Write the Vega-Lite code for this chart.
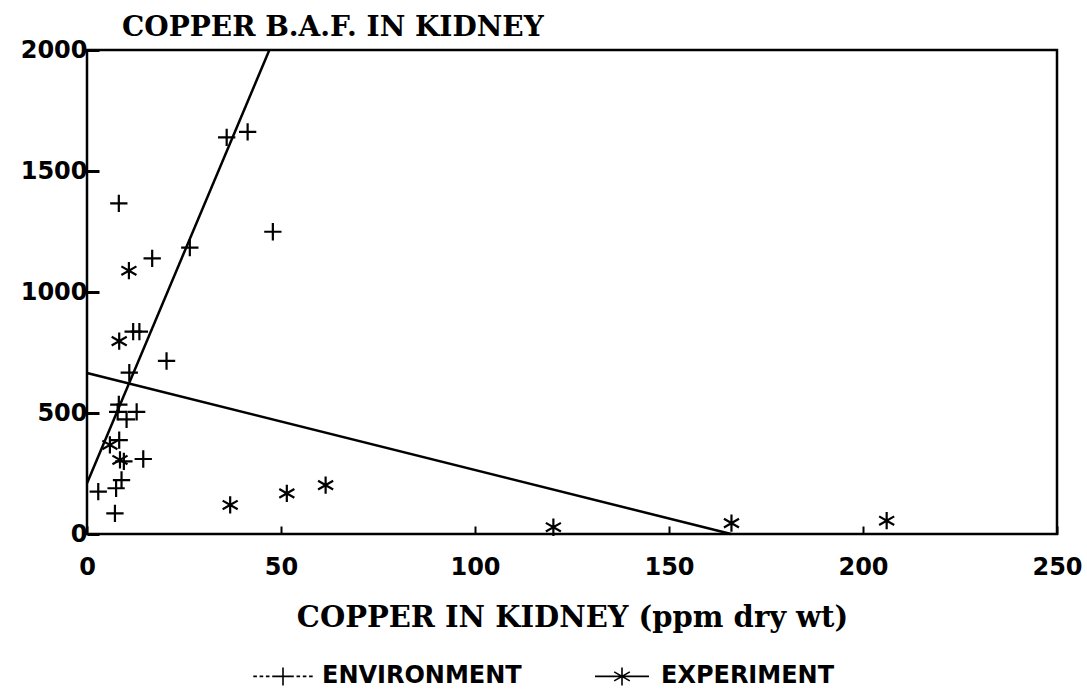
{
  "$schema": "https://vega.github.io/schema/vega-lite/v6.json",
  "width": 970,
  "height": 484,
  "autosize": "none",
  "padding": {"left": 87, "top": 50, "right": 30, "bottom": 162},
  "background": "white",
  "title": {
    "text": "COPPER B.A.F. IN KIDNEY",
    "anchor": "start",
    "frame": "group",
    "dx": 35,
    "offset": -4,
    "font": "DejaVu Serif",
    "fontWeight": "bold",
    "fontSize": 28,
    "color": "black"
  },
  "config": {
    "view": {"stroke": "black", "strokeWidth": 2.5},
    "axis": {
      "grid": false,
      "domain": false,
      "labelFont": "DejaVu Sans",
      "labelFontWeight": "bold",
      "labelFontSize": 24,
      "labelColor": "black",
      "tickColor": "black",
      "titleColor": "black",
      "format": "d",
      "labelFlush": false,
      "labelOverlap": false
    }
  },
  "datasets": {
    "points": [
      {"x": 36.0, "y": 1639, "group": "ENVIRONMENT"},
      {"x": 41.4, "y": 1662, "group": "ENVIRONMENT"},
      {"x": 8.2, "y": 1366, "group": "ENVIRONMENT"},
      {"x": 47.9, "y": 1249, "group": "ENVIRONMENT"},
      {"x": 26.5, "y": 1183, "group": "ENVIRONMENT"},
      {"x": 16.8, "y": 1139, "group": "ENVIRONMENT"},
      {"x": 11.9, "y": 836, "group": "ENVIRONMENT"},
      {"x": 13.5, "y": 836, "group": "ENVIRONMENT"},
      {"x": 20.5, "y": 715, "group": "ENVIRONMENT"},
      {"x": 10.9, "y": 667, "group": "ENVIRONMENT"},
      {"x": 8.2, "y": 535, "group": "ENVIRONMENT"},
      {"x": 7.9, "y": 505, "group": "ENVIRONMENT"},
      {"x": 10.2, "y": 474, "group": "ENVIRONMENT"},
      {"x": 12.8, "y": 505, "group": "ENVIRONMENT"},
      {"x": 8.3, "y": 388, "group": "ENVIRONMENT"},
      {"x": 14.5, "y": 310, "group": "ENVIRONMENT"},
      {"x": 9.5, "y": 300, "group": "ENVIRONMENT"},
      {"x": 8.9, "y": 223, "group": "ENVIRONMENT"},
      {"x": 2.9, "y": 175, "group": "ENVIRONMENT"},
      {"x": 7.5, "y": 189, "group": "ENVIRONMENT"},
      {"x": 7.2, "y": 85, "group": "ENVIRONMENT"},
      {"x": 10.8, "y": 1088, "group": "EXPERIMENT"},
      {"x": 8.3, "y": 797, "group": "EXPERIMENT"},
      {"x": 5.9, "y": 368, "group": "EXPERIMENT"},
      {"x": 8.5, "y": 306, "group": "EXPERIMENT"},
      {"x": 36.9, "y": 120, "group": "EXPERIMENT"},
      {"x": 51.5, "y": 168, "group": "EXPERIMENT"},
      {"x": 61.5, "y": 202, "group": "EXPERIMENT"},
      {"x": 120.2, "y": 28, "group": "EXPERIMENT"},
      {"x": 166.1, "y": 45, "group": "EXPERIMENT"},
      {"x": 206.1, "y": 55, "group": "EXPERIMENT"}
    ],
    "lines": [
      {"x": 0, "y": 210, "line": "ENVIRONMENT"},
      {"x": 47, "y": 2000, "line": "ENVIRONMENT"},
      {"x": 0, "y": 665, "line": "EXPERIMENT"},
      {"x": 166, "y": 0, "line": "EXPERIMENT"}
    ]
  },
  "encoding": {
    "x": {
      "field": "x",
      "type": "quantitative",
      "scale": {"domain": [0, 250], "nice": false, "zero": false},
      "axis": {
        "values": [0, 50, 100, 150, 200, 250],
        "tickSize": -8,
        "tickWidth": 2,
        "labelPadding": 29,
        "title": "COPPER IN KIDNEY (ppm dry wt)",
        "titleFont": "DejaVu Serif",
        "titleFontWeight": "bold",
        "titleFontSize": 29,
        "titlePadding": 24
      }
    },
    "y": {
      "field": "y",
      "type": "quantitative",
      "scale": {"domain": [0, 2000], "nice": false},
      "axis": {
        "values": [0, 500, 1000, 1500, 2000],
        "tickSize": -12,
        "tickWidth": 3,
        "labelPadding": 12,
        "title": null
      }
    }
  },
  "layer": [
    {
      "data": {"name": "lines"},
      "mark": {"type": "line", "color": "black", "strokeWidth": 2.5},
      "encoding": {"detail": {"field": "line", "type": "nominal"}}
    },
    {
      "data": {"name": "points"},
      "mark": {"type": "point", "filled": false, "stroke": "black", "strokeWidth": 2.2, "size": 300, "opacity": 1},
      "encoding": {
        "shape": {
          "field": "group",
          "type": "nominal",
          "scale": {
            "domain": ["ENVIRONMENT", "EXPERIMENT"],
            "range": ["M-1,0H1M0,-1V1", "M0,-1V1M-0.87,-0.5L0.87,0.5M-0.87,0.5L0.87,-0.5"]
          },
          "legend": null
        }
      }
    },
    {
      "data": {"name": "points"},
      "mark": {"type": "point", "filled": false, "stroke": "black", "strokeWidth": 1.6, "opacity": 0},
      "encoding": {
        "shape": {
          "field": "group",
          "type": "nominal",
          "scale": {
            "domain": ["ENVIRONMENT", "EXPERIMENT"],
            "range": [
              "M-3.3,0H-2.9M-2.6,0H-2.2M-1.9,0H-1.5M-1.2,0H1.2M1.5,0H1.9M2.2,0H2.6M2.9,0H3.3M0,-1V1",
              "M-3,0H3M0,-1V1M-0.87,-0.5L0.87,0.5M-0.87,0.5L0.87,-0.5"
            ]
          },
          "legend": {
            "title": null,
            "orient": "none",
            "direction": "horizontal",
            "legendX": 184,
            "legendY": 614,
            "padding": 0,
            "symbolSize": 324,
            "symbolOpacity": 1,
            "symbolStrokeColor": "black",
            "symbolStrokeWidth": 1.6,
            "symbolFillColor": "transparent",
            "labelFont": "DejaVu Sans",
            "labelFontWeight": "bold",
            "labelFontSize": 24,
            "labelColor": "black",
            "labelLimit": 400,
            "labelOffset": 27,
            "columnPadding": 69
          }
        }
      }
    }
  ],
  "resolve": {"scale": {"shape": "independent"}, "legend": {"shape": "independent"}}
}
